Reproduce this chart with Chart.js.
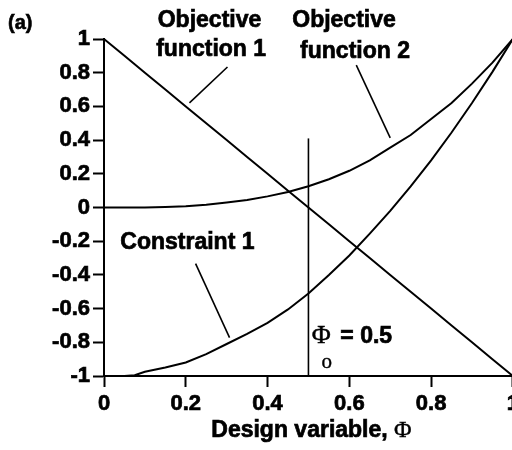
<!DOCTYPE html>
<html>
<head>
<meta charset="utf-8">
<script src="https://cdn.jsdelivr.net/npm/chart.js@4.4.1/dist/chart.umd.min.js"></script>
<style>
  html, body { margin: 0; padding: 0; background: #fff; }
  #wrap { width: 512px; height: 450px; overflow: hidden; position: relative; }
  canvas { display: block; }
</style>
</head>
<body>
<div id="wrap"><canvas id="chart" width="523" height="450"></canvas></div>
<script>
// design variable samples
const phi = [0, 0.05, 0.075, 0.1, 0.15, 0.2, 0.25, 0.3, 0.35, 0.4, 0.45, 0.5,
  0.55, 0.6, 0.65, 0.7, 0.75, 0.8, 0.85, 0.9, 0.95, 1];
const objective1 = [1, 0.9, 0.85, 0.8, 0.7, 0.6, 0.5, 0.4, 0.3, 0.2, 0.1, 0,
  -0.1, -0.2, -0.3, -0.4, -0.5, -0.6, -0.7, -0.8, -0.9, -1];
const objective2 = [0, 0, 0, 0, 0.003, 0.008, 0.016, 0.03, 0.045, 0.066, 0.092, 0.126,
  0.168, 0.218, 0.28, 0.355, 0.43, 0.525, 0.62, 0.735, 0.86, 1];
const constraint1 = [-1, -1, -0.995, -0.975, -0.95, -0.92, -0.87, -0.81, -0.75, -0.685, -0.605, -0.51,
  -0.4, -0.285, -0.155, -0.02, 0.125, 0.28, 0.445, 0.62, 0.805, 1];
// phi_0 marker
const phi0X = [0.5, 0.5];
const phi0Y = [-1, 0.41];

const xTicks = [0, 0.2, 0.4, 0.6, 0.8, 1];
const yTicks = [-1, -0.8, -0.6, -0.4, -0.2, 0, 0.2, 0.4, 0.6, 0.8, 1];

const SANS = '"Liberation Sans", Arial, sans-serif';
const SERIF = '"Liberation Serif", "Times New Roman", serif';

const toPoints = (xs, ys) => xs.map((x, i) => ({ x: x, y: ys[i] }));

const curve = (pts, width) => ({
  data: pts,
  borderColor: '#000',
  borderWidth: width,
  pointRadius: 0,
  tension: 0,
  showLine: true,
  clip: false,
});

// labels, leader lines and axis title
const annotations = {
  id: 'annotations',
  afterDatasetsDraw(chart) {
    const { ctx, scales: { x, y }, chartArea } = chart;
    const px = (v) => x.getPixelForValue(v);
    const py = (v) => y.getPixelForValue(v);

    ctx.save();
    ctx.fillStyle = '#000';
    ctx.strokeStyle = '#000';
    ctx.lineWidth = 1.6;

    const leader = (x1, y1, x2, y2) => {
      ctx.beginPath();
      ctx.moveTo(px(x1), py(y1));
      ctx.lineTo(px(x2), py(y2));
      ctx.stroke();
    };
    leader(0.302, 0.834, 0.209, 0.621);
    leader(0.617, 0.845, 0.700, 0.413);
    leader(0.224, -0.333, 0.307, -0.772);

    const text = (s, tx, ty, font, stroke) => {
      ctx.font = font;
      ctx.fillText(s, tx, ty);
      if (stroke) {
        ctx.lineWidth = stroke;
        ctx.strokeText(s, tx, ty);
      }
    };
    const bold = 'bold 23px ' + SANS;

    ctx.textAlign = 'center';
    ctx.textBaseline = 'alphabetic';
    text('Objective', px(0.258), 27, bold, 0.7);
    text('function 1', px(0.262), 56, bold, 0.7);
    text('Objective', px(0.587), 27, bold, 0.7);
    text('function 2', px(0.614), 58, bold, 0.7);
    text('Constraint 1', px(0.204), py(-0.197) + 8, bold, 0.7);

    // panel tag
    ctx.textAlign = 'left';
    text('(a)', 8, 29, 'bold 20px ' + SANS, 0.6);

    // phi_0 = 0.5
    text('\u03A6', px(0.508), 343, '26px ' + SERIF, 0.5);
    text('o', px(0.532), 368, '21px ' + SERIF, 0.4);
    text('= 0.5', px(0.578), 343, bold, 0.7);

    // x axis title
    const t1 = 'Design variable, ';
    ctx.font = bold;
    const w1 = ctx.measureText(t1).width;
    ctx.font = '24px ' + SERIF;
    const w2 = ctx.measureText('\u03A6').width;
    const left = (chartArea.left + chartArea.right) / 2 + 3 - (w1 + w2) / 2;
    text(t1, left, chartArea.bottom + 61, bold, 0.7);
    text('\u03A6', left + w1, chartArea.bottom + 61, '24px ' + SERIF, 0.4);
    ctx.restore();
  },
};

const tickFont = { family: SANS, size: 22, weight: 'bold' };
const tickGrid = {
  drawOnChartArea: false,
  drawTicks: true,
  tickLength: 11,
  tickWidth: 2,
  tickColor: '#000',
};

new Chart(document.getElementById('chart'), {
  type: 'scatter',
  data: {
    datasets: [
      curve(toPoints(phi, objective1), 2),
      curve(toPoints(phi, objective2), 2),
      curve(toPoints(phi, constraint1), 2),
      curve(toPoints(phi0X, phi0Y), 1.6),
    ],
  },
  options: {
    responsive: false,
    animation: false,
    layout: { padding: { top: 39, left: 0, right: 0, bottom: 0 } },
    plugins: {
      legend: { display: false },
      tooltip: { enabled: false },
    },
    scales: {
      x: {
        type: 'linear',
        min: 0,
        max: 1,
        afterBuildTicks: (s) => { s.ticks = xTicks.map((v) => ({ value: v })); },
        afterFit: (s) => { s.height = 74; },
        ticks: {
          color: '#000',
          padding: 4,
          maxRotation: 0,
          font: tickFont,
          textStrokeColor: '#000',
          textStrokeWidth: 0.7,
          callback: (v) => String(v),
        },
        grid: tickGrid,
        border: { display: true, color: '#000', width: 2 },
      },
      y: {
        type: 'linear',
        min: -1,
        max: 1,
        afterBuildTicks: (s) => { s.ticks = yTicks.map((v) => ({ value: v })); },
        afterFit: (s) => { s.width = 104; },
        ticks: {
          color: '#000',
          padding: 3,
          font: tickFont,
          textStrokeColor: '#000',
          textStrokeWidth: 0.7,
          callback: (v) => String(v),
        },
        grid: tickGrid,
        border: { display: true, color: '#000', width: 2 },
      },
    },
  },
  plugins: [annotations],
});
</script>
</body>
</html>
